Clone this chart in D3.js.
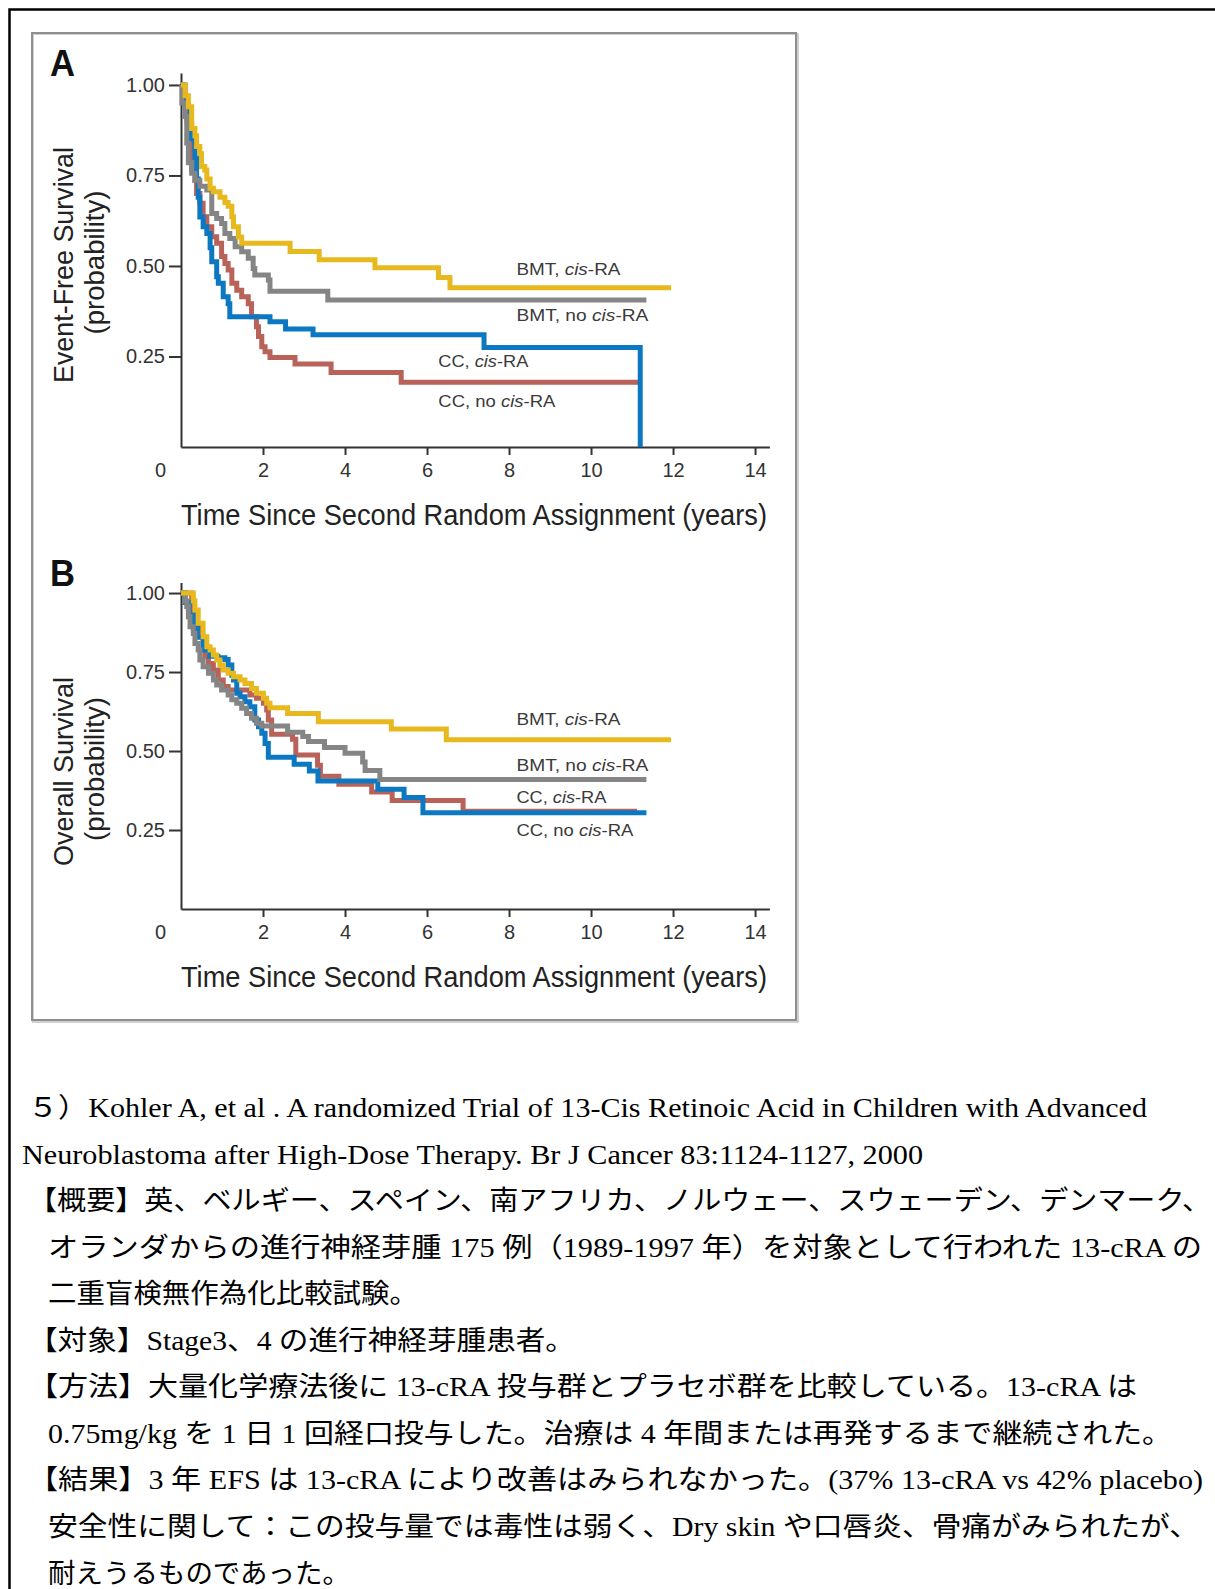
<!DOCTYPE html>
<html>
<head>
<meta charset="utf-8">
<script src="https://cdn.jsdelivr.net/npm/d3@7"></script>
<style>
  body { margin: 0; background: #fff; }
  svg { display: block; }
</style>
</head>
<body>
<div id="chart"></div>
<script>
// ---- data ----
var yearTicks = [0, 2, 4, 6, 8, 10, 12, 14];
var probTicks = [0.25, 0.50, 0.75, 1.00];
var groupNames = ['BMT, cis-RA', 'BMT, no cis-RA', 'CC, cis-RA', 'CC, no cis-RA'];
var groupColors = ['#e8b81f', '#858585', '#0b78c1', '#b9625a'];

// A: event-free survival, [years, probability] after each step
var efsBmtCis = [[0, 1], [0.1, 0.97], [0.18, 0.94], [0.26, 0.88], [0.34, 0.86], [0.38, 0.83], [0.46, 0.81],
  [0.5, 0.775], [0.58, 0.765], [0.63, 0.74], [0.71, 0.715], [0.79, 0.705], [0.95, 0.69], [1.07, 0.675],
  [1.15, 0.665], [1.24, 0.636], [1.28, 0.608], [1.4, 0.58], [1.48, 0.563], [2.66, 0.54], [3.37, 0.517],
  [4.73, 0.495], [6.28, 0.468], [6.56, 0.44]];
var efsBmtNoCis = [[0, 1], [0.02, 0.95], [0.1, 0.913], [0.14, 0.84], [0.18, 0.785], [0.26, 0.756], [0.34, 0.737],
  [0.46, 0.72], [0.63, 0.71], [0.75, 0.645], [0.87, 0.631], [0.99, 0.617], [1.07, 0.59], [1.19, 0.576],
  [1.32, 0.553], [1.48, 0.539], [1.64, 0.521], [1.76, 0.493], [1.8, 0.475], [2.13, 0.461], [2.17, 0.43],
  [3.58, 0.406]];
var efsCcCis = [[0, 1], [0.05, 0.96], [0.15, 0.9], [0.25, 0.85], [0.34, 0.8], [0.38, 0.74], [0.42, 0.69],
  [0.46, 0.635], [0.54, 0.608], [0.63, 0.59], [0.71, 0.55], [0.75, 0.512], [0.87, 0.47], [0.91, 0.452],
  [1.03, 0.415], [1.15, 0.396], [1.19, 0.36], [2.17, 0.346], [2.55, 0.326], [3.22, 0.31], [7.39, 0.275],
  [11.2, 0]];
var efsCcNoCis = [[0, 1], [0.1, 0.95], [0.18, 0.894], [0.26, 0.765], [0.34, 0.737], [0.38, 0.7], [0.46, 0.673],
  [0.54, 0.636], [0.63, 0.608], [0.75, 0.581], [0.87, 0.563], [0.99, 0.526], [1.07, 0.507], [1.15, 0.489],
  [1.24, 0.452], [1.36, 0.433], [1.48, 0.415], [1.64, 0.396], [1.72, 0.36], [1.84, 0.332], [1.89, 0.305],
  [1.97, 0.277], [2.05, 0.263], [2.17, 0.247], [2.78, 0.229], [3.66, 0.206], [5.37, 0.179]];
var efsEnd = [11.95, 11.35, 11.2, 11.15];

// B: overall survival
var osBmtCis = [[0, 1], [0.3, 0.975], [0.34, 0.946], [0.42, 0.904], [0.54, 0.862], [0.63, 0.83], [0.71, 0.82],
  [0.79, 0.804], [0.87, 0.788], [0.95, 0.772], [1.03, 0.756], [1.15, 0.746], [1.28, 0.735], [1.44, 0.725],
  [1.56, 0.714], [1.72, 0.698], [1.84, 0.683], [2.01, 0.667], [2.09, 0.651], [2.17, 0.637], [2.6, 0.619],
  [3.35, 0.593], [5.13, 0.57], [6.47, 0.536]];
var osBmtNoCis = [[0, 1], [0.1, 0.975], [0.14, 0.957], [0.18, 0.925], [0.22, 0.893], [0.3, 0.872], [0.34, 0.84],
  [0.42, 0.82], [0.46, 0.788], [0.54, 0.767], [0.67, 0.746], [0.79, 0.725], [0.87, 0.709], [0.99, 0.693],
  [1.15, 0.677], [1.24, 0.662], [1.36, 0.651], [1.48, 0.635], [1.6, 0.619], [1.72, 0.604], [1.84, 0.588],
  [1.97, 0.579], [2.6, 0.559], [2.97, 0.546], [3.11, 0.53], [3.5, 0.511], [4.0, 0.493], [4.43, 0.465],
  [4.49, 0.438], [4.85, 0.41]];
var osCcCis = [[0, 1], [0.1, 0.97], [0.2, 0.93], [0.3, 0.89], [0.4, 0.86], [0.54, 0.82], [0.7, 0.8],
  [0.9, 0.795], [1.07, 0.79], [1.15, 0.772], [1.24, 0.74], [1.28, 0.725], [1.36, 0.683], [1.44, 0.672],
  [1.56, 0.656], [1.68, 0.64], [1.8, 0.598], [1.89, 0.577], [1.97, 0.556], [2.05, 0.524], [2.13, 0.48],
  [2.76, 0.458], [3.13, 0.437], [3.34, 0.405], [4.8, 0.379], [5.44, 0.353], [5.9, 0.305]];
var osCcNoCis = [[0, 1], [0.26, 0.978], [0.3, 0.935], [0.38, 0.893], [0.46, 0.862], [0.54, 0.83], [0.58, 0.798],
  [0.67, 0.777], [0.79, 0.756], [0.91, 0.725], [1.03, 0.704], [1.15, 0.693], [1.68, 0.677], [1.84, 0.667],
  [2.01, 0.651], [2.09, 0.63], [2.13, 0.598], [2.21, 0.553], [2.72, 0.537], [2.8, 0.487], [3.33, 0.455],
  [3.4, 0.42], [3.85, 0.395], [4.65, 0.37], [5.15, 0.343], [6.88, 0.309]];
var osEnd = [11.95, 11.35, 11.35, 11.12];

// where the group names sit, in data units [years, probability]
var efsLabelAt = [[8.18, 0.475], [8.18, 0.348], [6.275, 0.222], [6.275, 0.111]];
var osLabelAt = [[8.18, 0.582], [8.18, 0.437], [8.18, 0.336], [8.18, 0.232]];

var noteLines = [
  '５）Kohler A, et al . A randomized Trial of 13-Cis Retinoic Acid in Children with Advanced',
  'Neuroblastoma after High-Dose Therapy. Br J Cancer 83:1124-1127, 2000',
  '【概要】英、ベルギー、スペイン、南アフリカ、ノルウェー、スウェーデン、デンマーク、',
  'オランダからの進行神経芽腫 175 例（1989-1997 年）を対象として行われた 13-cRA の',
  '二重盲検無作為化比較試験。',
  '【対象】Stage3、4 の進行神経芽腫患者。',
  '【方法】大量化学療法後に 13-cRA 投与群とプラセボ群を比較している。13-cRA は',
  '0.75mg/kg を 1 日 1 回経口投与した。治療は 4 年間または再発するまで継続された。',
  '【結果】3 年 EFS は 13-cRA により改善はみられなかった。(37% 13-cRA vs 42% placebo)',
  '安全性に関して：この投与量では毒性は弱く、Dry skin や口唇炎、骨痛がみられたが、',
  '耐えうるものであった。'
];

// ---- layout ----
var width = 1215, height = 1589;
var noteSpan = [[28, 1147], [22, 923], [28, 1211], [48, 1202], [48, 418], [28, 575],
  [28, 1137], [48, 1172], [28, 1203], [48, 1199], [48, 350]];

var svg = d3.select('#chart').append('svg')
  .attr('width', width)
  .attr('height', height)
  .style('background', '#fff');

// page border and figure frame
svg.append('rect')
  .attr('x', 9.5).attr('y', 9.5)
  .attr('width', 1400).attr('height', 1800)
  .attr('fill', 'none')
  .attr('stroke', '#000')
  .attr('stroke-width', 2.5);

svg.append('rect')
  .attr('x', 33).attr('y', 34)
  .attr('width', 765).attr('height', 988)
  .attr('fill', 'none')
  .attr('stroke', '#d0d0d0')
  .attr('stroke-width', 2);
svg.append('rect')
  .attr('x', 32).attr('y', 33)
  .attr('width', 764).attr('height', 987)
  .attr('fill', 'none')
  .attr('stroke', '#8e8e8e')
  .attr('stroke-width', 2);

var x = d3.scaleLinear().domain([0, 14.35]).range([181, 769.4]);

var tickFont = '"Liberation Sans", Arial, sans-serif';

function drawPanel(opts) {
  var y = d3.scaleLinear().domain([0, 1.033]).range([opts.bottom, opts.top]);
  var g = svg.append('g');

  g.append('text')
    .attr('x', 50)
    .attr('y', opts.letterY)
    .attr('font-family', tickFont)
    .attr('font-weight', 'bold')
    .attr('font-size', 36)
    .attr('textLength', 25)
    .attr('lengthAdjust', 'spacingAndGlyphs')
    .attr('fill', '#111')
    .text(opts.letter);

  var xAxis = g.append('g')
    .attr('transform', 'translate(0,' + opts.bottom + ')')
    .call(d3.axisBottom(x).tickValues(yearTicks).tickSize(8).tickSizeOuter(0).tickPadding(8)
      .tickFormat(d3.format('d')));
  xAxis.selectAll('.tick').filter(function(d) { return d === 0; })
    .select('line').remove();
  xAxis.selectAll('.tick').filter(function(d) { return d === 0; })
    .select('text').attr('x', -21);

  var yAxis = g.append('g')
    .attr('transform', 'translate(' + x(0) + ',0)')
    .call(d3.axisLeft(y).tickValues(probTicks).tickSize(12).tickSizeOuter(0).tickPadding(4)
      .tickFormat(d3.format('.2f')));

  [xAxis, yAxis].forEach(function(a) {
    a.select('.domain').attr('stroke', '#333').attr('stroke-width', 2);
    a.selectAll('.tick line').attr('stroke', '#333').attr('stroke-width', 2);
    a.selectAll('.tick text')
      .attr('font-family', tickFont)
      .attr('font-size', 20)
      .attr('fill', '#333');
  });

  // axis titles
  g.append('text')
    .attr('x', (x(0) + 767) / 2)
    .attr('y', opts.bottom + 78)
    .attr('text-anchor', 'middle')
    .attr('font-family', tickFont)
    .attr('font-size', 29)
    .attr('textLength', 586)
    .attr('lengthAdjust', 'spacingAndGlyphs')
    .attr('fill', '#222')
    .text('Time Since Second Random Assignment (years)');

  g.append('text')
    .attr('transform', 'translate(73,' + opts.titleY[0] + ') rotate(-90)')
    .attr('text-anchor', 'middle')
    .attr('font-family', tickFont)
    .attr('font-size', 28)
    .attr('textLength', opts.titleLen)
    .attr('lengthAdjust', 'spacingAndGlyphs')
    .attr('fill', '#222')
    .text(opts.title);

  g.append('text')
    .attr('transform', 'translate(104,' + opts.titleY[1] + ') rotate(-90)')
    .attr('text-anchor', 'middle')
    .attr('font-family', tickFont)
    .attr('font-size', 27)
    .attr('textLength', 144)
    .attr('lengthAdjust', 'spacingAndGlyphs')
    .attr('fill', '#222')
    .text('(probability)');

  // survival curves
  var line = d3.line()
    .x(function(d) { return x(d[0]); })
    .y(function(d) { return y(d[1]); })
    .curve(d3.curveStepAfter);

  var order = [3, 2, 1, 0];
  order.forEach(function(i) {
    var pts = opts.series[i];
    var last = pts[pts.length - 1];
    g.append('path')
      .attr('d', line(pts.concat([[opts.ends[i], last[1]]])))
      .attr('fill', 'none')
      .attr('stroke', groupColors[i])
      .attr('stroke-width', 5)
      .attr('stroke-linejoin', 'miter');
  });

  // group labels, "cis" in italics
  var labelLen = [104, 132, 90, 117];
  groupNames.forEach(function(name, i) {
    var parts = name.split('cis');
    var t = g.append('text')
      .attr('x', x(opts.labels[i][0]))
      .attr('y', y(opts.labels[i][1]))
      .attr('font-family', tickFont)
      .attr('font-size', 17)
      .attr('textLength', labelLen[i])
      .attr('lengthAdjust', 'spacingAndGlyphs')
      .attr('fill', '#3a3a3a');
    t.append('tspan').text(parts[0]);
    t.append('tspan').attr('font-style', 'italic').text('cis');
    t.append('tspan').text(parts[1]);
  });
}

drawPanel({
  letter: 'A', letterY: 76, top: 73, bottom: 447,
  title: 'Event-Free Survival', titleLen: 236, titleY: [265, 262.5],
  series: [efsBmtCis, efsBmtNoCis, efsCcCis, efsCcNoCis], ends: efsEnd, labels: efsLabelAt
});

drawPanel({
  letter: 'B', letterY: 585.5, top: 582.6, bottom: 909,
  title: 'Overall Survival', titleLen: 189, titleY: [771.5, 769],
  series: [osBmtCis, osBmtNoCis, osCcCis, osCcNoCis], ends: osEnd, labels: osLabelAt
});

// reference note under the figure
svg.append('g').selectAll('text')
  .data(noteLines)
  .enter().append('text')
  .attr('x', function(d, i) { return noteSpan[i][0]; })
  .attr('y', function(d, i) { return 1117 + i * 46.55; })
  .attr('textLength', function(d, i) { return noteSpan[i][1] - noteSpan[i][0]; })
  .attr('lengthAdjust', 'spacingAndGlyphs')
  .attr('font-family', '"Liberation Serif", "Noto Sans CJK JP", serif')
  .attr('font-size', 27)
  .attr('fill', '#000')
  .text(function(d) { return d; });
</script>
</body>
</html>
